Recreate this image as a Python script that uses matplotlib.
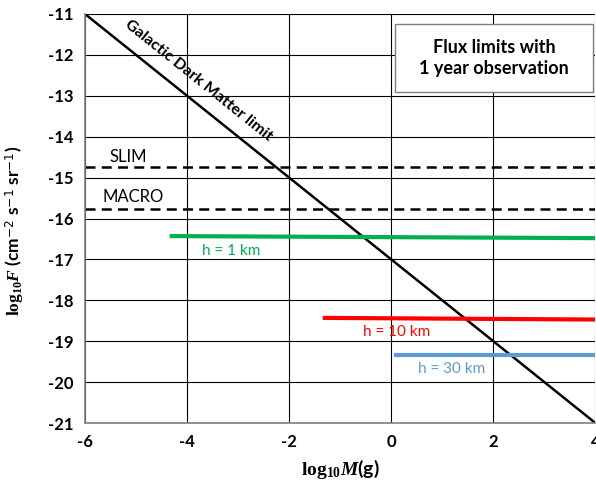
import numpy as np
import matplotlib.pyplot as plt
from matplotlib.patches import Rectangle

# data
logM_dm = [-6, 4]
logF_dm = [-11, -21]

slim_x = [-6, 4]
slim_y = [-14.74, -14.74]
macro_x = [-6, 4]
macro_y = [-15.77, -15.77]

h1_x = [-4.3, 4]
h1_y = [-16.43, -16.48]
h10_x = [-1.3, 4]
h10_y = [-18.43, -18.47]
h30_x = [0.1, 4]
h30_y = [-19.34, -19.34]

xticks = [-6, -4, -2, 0, 2, 4]
yticks = list(range(-21, -10))

plt.rcParams['font.family'] = ['Lato', 'DejaVu Sans']
plt.rcParams['mathtext.fontset'] = 'custom'
plt.rcParams['mathtext.rm'] = 'Liberation Serif:bold'
plt.rcParams['mathtext.it'] = 'Liberation Serif:italic:bold'
plt.rcParams['mathtext.bf'] = 'Liberation Serif:bold'

fig = plt.figure(figsize=(5.96, 4.86), dpi=100)
ax = fig.add_axes([0.1426, 0.1296, 0.8564, 0.8416])

ax.plot(logM_dm, logF_dm, color='black', lw=1.8)
ax.plot(slim_x, slim_y, color='black', lw=1.8, ls=(0, (4, 2.5)))
ax.plot(macro_x, macro_y, color='black', lw=1.8, ls=(0, (4, 2.5)))
ax.plot(h1_x, h1_y, color='#00B050', lw=3)
ax.plot(h10_x, h10_y, color='#FF0000', lw=3)
ax.plot(h30_x, h30_y, color='#5B9BD5', lw=3)

ax.text(-5.52, -14.5, 'SLIM', fontsize=12, va='center')
ax.text(-5.66, -15.47, 'MACRO', fontsize=12, va='center')
ax.text(-3.7, -16.8, 'h = 1 km', fontsize=11, color='#00B050', va='center')
ax.text(-0.55, -18.77, 'h = 10 km', fontsize=11, color='#FF0000', va='center')
ax.text(0.53, -19.68, 'h = 30 km', fontsize=11, color='#5B9BD5', va='center')

ax.text(-3.78, -12.62, 'Galactic Dark Matter limit', fontsize=11.5, fontweight='bold',
        rotation=-45, rotation_mode='anchor', transform_rotates_text=True,
        ha='center', va='center')

ax.add_patch(Rectangle((0.607, 0.809), 0.389, 0.167, transform=ax.transAxes,
                       fc='white', ec='#808080', lw=1, zorder=4))
ax.text(0.802, 0.893, 'Flux limits with\n1 year observation', transform=ax.transAxes,
        fontsize=13, fontweight='bold', ha='center', va='center', linespacing=1.25,
        zorder=5)

ax.set_xlim(-6, 4)
ax.set_ylim(-21, -11)
ax.set_xticks(xticks)
ax.set_yticks(yticks)
ax.set_xticklabels([str(v) for v in xticks], fontsize=12, fontweight='bold')
ax.set_yticklabels([str(v) for v in yticks], fontsize=12, fontweight='bold')
ax.tick_params(length=0, pad=8)
ax.grid(True, color='black', lw=0.8)
ax.set_axisbelow(True)
for s in ax.spines.values():
    s.set_color('#808080')
    s.set_linewidth(1.2)
ax.spines['top'].set_visible(False)
ax.spines['right'].set_visible(False)

ax.set_xlabel(r'$\mathrm{log}_{10}M$(g)', fontsize=14, fontweight='bold', labelpad=5)
ax.set_ylabel(r'$\mathrm{log}_{10}F$ (cm$^{\mathsf{-2}}$ s$^{\mathsf{-1}}$ sr$^{\mathsf{-1}}$)',
              fontsize=12.5, fontweight='bold')
ax.yaxis.set_label_coords(-0.115, 0.47)

fig.savefig('out.png', dpi=100)
